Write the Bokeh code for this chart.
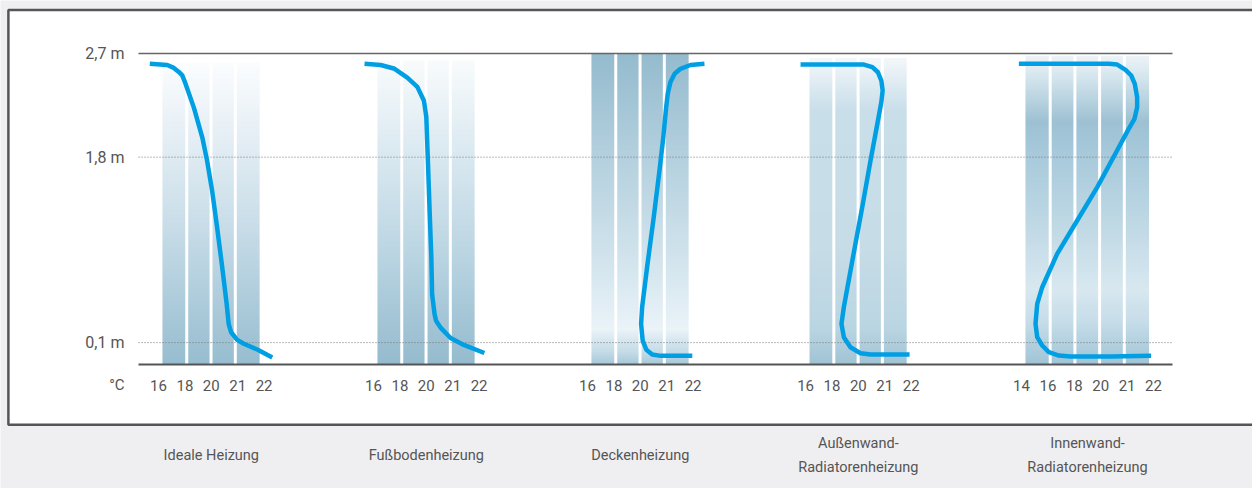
import numpy as np
from bokeh.plotting import figure
from bokeh.models import Range1d, FixedTicker, LinearAxis, ColumnDataSource
from bokeh.core.properties import value
from bokeh.embed import file_html
from bokeh.resources import INLINE

FONT = "Roboto"
TXT = "#555555"

# ---------------- data ----------------
panel_names = ["Ideale Heizung", "Fußbodenheizung", "Deckenheizung",
               "Außenwand-\nRadiatorenheizung", "Innenwand-\nRadiatorenheizung"]
temps_std = ["16", "18", "20", "21", "22"]
temps_inner = ["14", "16", "18", "20", "21", "22"]
panel_temps = [temps_std, temps_std, temps_std, temps_std, temps_inner]

height_ticks = [0.19, 1.8, 2.7]
height_labels = ["0,1 m", "1,8 m", "2,7 m"]
unit_label = "°C"

# curves: x in temperature-label slots (0 = first label of panel), y = height
ideal_x = [-0.33, 0.33, 0.58, 0.77, 0.90, 1.02, 1.34, 1.66, 1.84, 2.03, 2.22, 2.41, 2.58, 2.66, 2.75, 2.98, 3.23, 3.74, 4.31]
ideal_y = [2.61, 2.60, 2.575, 2.54, 2.51, 2.44, 2.23, 1.97, 1.77, 1.51, 1.19, 0.85, 0.53, 0.35, 0.28, 0.214, 0.18, 0.13, 0.06]

floor_x = [-0.34, 0.27, 0.77, 1.28, 1.66, 1.91, 2.00, 2.06, 2.12, 2.19, 2.22, 2.31, 2.37, 2.54, 2.92, 3.42, 4.20]
floor_y = [2.61, 2.60, 2.57, 2.49, 2.41, 2.29, 2.15, 1.77, 1.37, 0.93, 0.61, 0.44, 0.38, 0.32, 0.23, 0.17, 0.10]

ceil_x = [4.43, 3.90, 3.52, 3.30, 3.14, 3.04, 2.98, 2.87, 2.74, 2.51, 2.26, 2.07, 2.03, 2.09, 2.23, 2.45, 2.77, 3.97]
ceil_y = [2.61, 2.60, 2.567, 2.524, 2.451, 2.35, 2.234, 1.97, 1.71, 1.28, 0.85, 0.50, 0.353, 0.208, 0.128, 0.087, 0.075, 0.075]

outer_x = [-0.19, 0.95, 2.21, 2.53, 2.74, 2.87, 2.92, 2.87, 2.72, 2.46, 2.15, 1.77, 1.45, 1.36, 1.45, 1.70, 2.08, 2.46, 3.94]
outer_y = [2.604, 2.604, 2.604, 2.581, 2.537, 2.465, 2.379, 2.277, 2.09, 1.77, 1.37, 0.90, 0.498, 0.353, 0.237, 0.15, 0.098, 0.087, 0.087]

inner_x = [-0.10, 1.48, 3.31, 3.625, 3.94, 4.155, 4.29, 4.38, 4.38, 4.28, 4.06, 3.62, 2.87, 2.11, 1.35,
           0.784, 0.595, 0.53, 0.595, 0.784, 1.034, 1.413, 1.856, 3.37, 4.91]
inner_y = [2.61, 2.61, 2.61, 2.604, 2.558, 2.509, 2.437, 2.32, 2.234, 2.133, 2.046, 1.858, 1.54, 1.25, 0.96,
           0.671, 0.527, 0.353, 0.237, 0.165, 0.107, 0.078, 0.069, 0.069, 0.075]

curves_x = [ideal_x, floor_x, ceil_x, outer_x, inner_x]
curves_y = [ideal_y, floor_y, ceil_y, outer_y, inner_y]

# ---------------- layout / style ----------------
W, H = 1252, 488
SLOT_PX = 26.4          # px per temperature slot
M_PX = 115.19           # px per height unit
X0_PX, Y0_PX = 158, 364  # page position of first label slot / baseline


def xd(px):
    return (px - X0_PX) / SLOT_PX


def yd(py):
    return (Y0_PX - py) / M_PX


panel_origin = [0.0, 8.144, 16.25, 24.51, 32.69]
line_x0, line_x1 = xd(138), xd(1172)

bar_top = [2.62, 2.64, 2.70, 2.66, 2.68]
bar_stops = [
    [(0, "#97bdd0"), (1.2, "#c8dde8"), (2.0, "#e6eff5"), (2.62, "#fbfdfe")],
    [(0, "#95bbce"), (1.0, "#bcd6e3"), (1.8, "#d9e8f0"), (2.64, "#f8fbfc")],
    [(0, "#a8c9d9"), (0.12, "#c8dee9"), (0.3, "#eaf3f8"), (0.9, "#d2e4ed"), (1.8, "#b4d0de"), (2.7, "#94bbce")],
    [(0, "#a0c3d5"), (0.3, "#bad5e2"), (1.0, "#c6dce7"), (2.2, "#c8dee9"), (2.66, "#f3f7fa")],
    [(0, "#a0c4d6"), (0.35, "#c5dce8"), (0.65, "#d8e8f0"), (1.2, "#c0d9e5"), (1.8, "#a8cadb"),
     (2.1, "#9dc1d3"), (2.45, "#cfe2eb"), (2.68, "#eef4f8")],
]


def hex2rgb(h):
    return [int(h[i:i + 2], 16) for i in (1, 3, 5)]


def grad_image(stops, y0, y1, n=300):
    ys = np.linspace(y0, y1, n)
    sy = [s[0] for s in stops]
    cols = np.array([hex2rgb(s[1]) for s in stops], dtype=float)
    img = np.zeros((n, 1, 4), dtype=np.uint8)
    for c in range(3):
        img[:, 0, c] = np.interp(ys, sy, cols[:, c]).round().astype(np.uint8)
    img[:, :, 3] = 255
    return img.view(np.uint32).reshape(n, 1)


p = figure(width=W, height=H, output_backend="svg", toolbar_location=None,
           x_range=Range1d(xd(0), xd(W)), y_range=Range1d(yd(H), yd(0)),
           min_border_left=0, min_border_right=0, min_border_top=0, min_border_bottom=0,
           background_fill_color="#efeff1", border_fill_color="#efeff1",
           outline_line_color=None)
p.grid.visible = False
p.xaxis.visible = False

# white panel with dark border (open to the right)
p.quad(left=[xd(7.9)], right=[xd(W + 20)], top=[yd(9.5)], bottom=[yd(424.2)],
       fill_color="white", line_color="#555555", line_width=2.5)

# gradient bars
imgs, bx, by, bdw, bdh = [], [], [], [], []
gap = 3 / SLOT_PX
for k, temps in enumerate(panel_temps):
    nb = len(temps) - 1
    left, right = 0.15, nb - 0.17
    w = (right - left) / nb
    for i in range(nb):
        x0 = left + i * w + (gap / 2 if i > 0 else 0)
        x1 = left + (i + 1) * w - (gap / 2 if i < nb - 1 else 0)
        imgs.append(grad_image(bar_stops[k], 0, bar_top[k]))
        bx.append(panel_origin[k] + x0)
        by.append(0)
        bdw.append(x1 - x0)
        bdh.append(bar_top[k])
p.image_rgba(source=ColumnDataSource(dict(image=imgs, x=bx, y=by, dw=bdw, dh=bdh)),
             image="image", x="x", y="y", dw="dw", dh="dh")

# reference lines
top_h = height_ticks[-1]
p.segment(x0=[line_x0], x1=[line_x1], y0=[top_h], y1=[top_h], line_color="#666666", line_width=1.6)
p.segment(x0=[line_x0] * 2, x1=[line_x1] * 2, y0=height_ticks[:2], y1=height_ticks[:2],
          line_color="#777777", line_width=1, line_dash="1 2")

# curves
p.multi_line(xs=[[panel_origin[k] + v for v in xs] for k, xs in enumerate(curves_x)],
             ys=curves_y, line_color="#009fe3", line_width=4.5,
             line_join="round", line_cap="butt")

# y axis (fixed)
ya = p.yaxis[0]
ya.fixed_location = line_x0
ya.ticker = FixedTicker(ticks=height_ticks)
ya.major_label_overrides = dict(zip(height_ticks, height_labels))
ya.axis_line_color = None
ya.major_tick_line_color = None
ya.minor_tick_line_color = None
ya.major_label_standoff = 8
ya.major_label_text_font = FONT
ya.major_label_text_font_size = "16px"
ya.major_label_text_color = TXT

# temperature axis (fixed at baseline)
t_ticks, t_over = [], {}
for k, temps in enumerate(panel_temps):
    for i, t in enumerate(temps):
        v = panel_origin[k] + i
        t_ticks.append(v)
        t_over[v] = t
ta = LinearAxis(fixed_location=0, ticker=FixedTicker(ticks=t_ticks), major_label_overrides=t_over,
                bounds=(line_x0, line_x1), axis_line_color="#555555", axis_line_width=2,
                major_tick_line_color=None, minor_tick_line_color=None,
                major_label_standoff=9, major_label_text_font=FONT,
                major_label_text_font_size="15px", major_label_text_color=TXT)
p.add_layout(ta, "below")

p.text(x=[line_x0], y=[yd(384)], text=[unit_label], x_offset=-14,
       text_align="right", text_baseline="middle", text_font=value(FONT),
       text_font_size="15px", text_color=TXT)

# category labels
centers = [panel_origin[k] + (len(t) - 1) / 2 for k, t in enumerate(panel_temps)]
p.text(x=centers, y=[yd(455)] * len(centers), text=panel_names,
       text_align="center", text_baseline="middle", text_font=value(FONT),
       text_font_size="14.5px", text_color=TXT, text_line_height=1.45)

open("out.html", "w").write(file_html(p, INLINE))
